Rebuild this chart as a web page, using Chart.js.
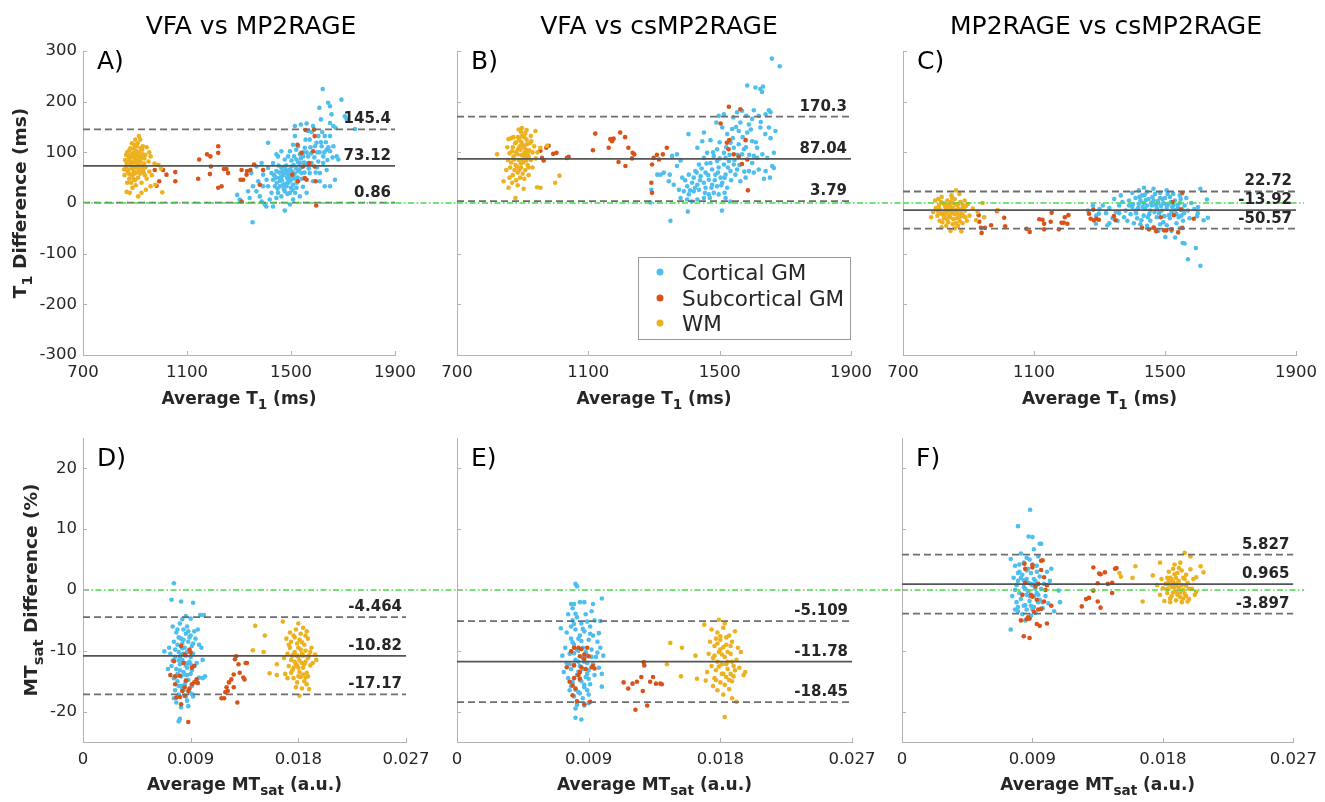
<!DOCTYPE html>
<html>
<head>
<meta charset="utf-8">
<script src="https://cdn.jsdelivr.net/npm/chart.js@4.4.1/dist/chart.umd.min.js"></script>
<style>
  html, body { margin: 0; padding: 0; background: #fff; }
  #wrap { position: relative; width: 1325px; height: 802px; }
  #wrap canvas { position: absolute; left: 0; top: 0; }
</style>
</head>
<body>
<div id="wrap"></div>
<script>
// ---------------------------------------- | Data

const groups = ["Cortical GM", "Subcortical GM", "WM"]
const titles = ["VFA vs MP2RAGE", "VFA vs csMP2RAGE", "MP2RAGE vs csMP2RAGE"]
const letters = ["A)", "B)", "C)", "D)", "E)", "F)"]

const t1XTicks = [700, 1100, 1500, 1900]
const t1YTicks = [-300, -200, -100, 0, 100, 200, 300]
const mtXTicks = [0, 0.009, 0.018, 0.027]
const mtYTicks = [-20, -10, 0, 10, 20]

// upper limit, mean bias, lower limit
const statsA = [145.4, 73.12, 0.86]
const statsB = [170.3, 87.04, 3.79]
const statsC = [22.72, -13.92, -50.57]
const statsD = [-4.464, -10.82, -17.17]
const statsE = [-5.109, -11.78, -18.45]
const statsF = [5.827, 0.965, -3.897]

// A) VFA vs MP2RAGE, T1
const cortA = [[1352,-38],[1293,16],[1303,7],[1335,23],[1347,59],[1367,72],[1387,79],[1412,119],[1399,-3],[1405,-7],[1476,-15],[1444,96],[1450,92],[1515,152],[1515,132],[1538,155],[1560,157],[1566,142],[1585,152],[1572,125],[1609,188],[1615,165],[1622,225],[1643,198],[1650,191],[1656,175],[1650,158],[1663,152],[1672,148],[1694,204],[1707,171],[1746,146],[1714,165],[1682,86],[1669,46],[1650,33],[1637,65],[1618,112],[1624,92],[1637,105],[1650,102],[1624,79],[1605,82],[1611,59],[1585,43],[1572,59],[1560,20],[1534,13],[1508,7],[1496,20],[1483,33],[1463,13],[1444,10],[1425,20],[1412,33],[1431,46],[1457,49],[1483,59],[1502,72],[1521,86],[1534,96],[1553,109],[1496,102],[1476,86],[1463,69],[1444,63],[1425,59],[1406,46],[1393,33],[1380,13],[1418,7],[1470,36],[1489,46],[1508,53],[1527,63],[1540,59],[1508,36],[1521,30],[1496,66],[1476,72],[1457,33],[1438,33],[1450,20],[1476,23],[1534,79],[1547,92],[1566,92],[1579,79],[1598,119],[1605,132],[1630,132],[1650,132],[1663,112],[1676,92],[1611,43],[1630,33],[1489,92],[1508,115],[1527,112],[1463,102],[1431,79],[1412,69],[1393,56],[1374,43],[1354,33],[1367,23],[1341,10],[1387,3],[1431,-7],[1496,-3],[1485,50],[1495,55],[1505,62],[1515,48],[1490,40],[1500,30],[1470,55],[1480,65],[1510,75],[1520,68],[1465,45],[1455,60],[1445,40],[1435,55],[1525,50],[1540,70],[1550,80],[1560,100],[1575,110],[1590,90],[1600,100],[1615,120],[1628,100],[1640,85],[1595,60],
  [1448,28],[1458,44],[1468,62],[1478,38],[1488,56],[1498,44],[1506,26],[1514,58],[1522,40],[1532,66],[1542,48],[1552,60],[1462,52],[1472,28],[1482,74],[1492,64],[1502,84],[1512,92],[1528,80],[1538,88],[1548,100],[1558,78],[1568,68],[1578,98],[1452,74],[1442,50],[1486,18],[1516,20],[1546,32],[1500,48],[1520,105],[1556,125],[1580,140],[1592,112],[1620,140],[1610,100],[1634,120],[1644,110],[1660,90],[1600,70]]
const subA = [[976,65],[1008,65],[1021,56],[993,43],[983,34],[1055,61],[1055,43],[1147,86],[1143,48],[1177,96],[1190,92],[1220,112],[1220,99],[1192,72],[1188,57],[1233,33],[1220,30],[1242,67],[1252,67],[1258,59],[1310,65],[1306,46],[1316,46],[1331,63],[1329,56],[1344,65],[1358,76],[1380,36],[1393,65],[1310,3],[1525,115],[1540,99],[1547,72],[1527,43],[1553,49],[1560,46],[1585,102],[1591,132],[1589,145],[1591,72],[1595,43],[1597,-5],[1556,144],[1570,79],[1505,56]]
const wmA = [[872,62],[880,75],[888,68],[895,80],[902,70],[910,85],[918,75],[925,90],[905,60],[890,55],[878,48],[870,40],[885,40],[900,45],[912,50],[920,58],[930,65],[935,78],[940,95],[928,105],[915,100],[905,95],[895,100],[885,90],[875,85],[865,70],[860,55],[862,85],[870,100],[882,108],[897,115],[910,118],[920,125],[915,132],[930,112],[945,110],[955,100],[952,82],[960,92],[975,78],[990,75],[1000,68],[965,55],[955,62],[945,48],[960,33],[978,36],[1005,21],[942,26],[912,13],[880,20],[868,22],[858,66],[890,30],[903,35],[925,40],[938,55],[895,62],[908,78],[918,88],[886,96],[876,58],[925,20],
  [868,78],[876,92],[884,82],[892,72],[899,88],[906,102],[913,68],[921,82],[929,96],[936,88],[874,66],[882,56],[891,92],[898,58],[907,112],[914,92],[922,108],[927,72],[933,60],[940,70],[866,95],[878,104],[888,118],[901,125],[894,48],[903,83],[910,74],[917,64],[884,76],[896,108]]

// B) VFA vs csMP2RAGE, T1
const cortB = [[1350,-35],[1403,-17],[1507,-15],[1289,1],[1292,26],[1310,56],[1320,56],[1330,60],[1345,43],[1348,56],[1355,93],[1370,96],[1381,84],[1370,73],[1405,136],[1452,139],[1490,159],[1497,172],[1513,175],[1541,169],[1553,179],[1568,182],[1581,172],[1604,183],[1619,172],[1650,183],[1655,179],[1624,149],[1639,136],[1670,142],[1655,128],[1665,99],[1660,73],[1653,50],[1635,48],[1604,60],[1589,63],[1599,79],[1614,89],[1630,96],[1614,109],[1599,122],[1584,139],[1558,142],[1538,146],[1523,136],[1508,149],[1584,232],[1609,228],[1624,225],[1632,230],[1629,219],[1659,285],[1683,270],[1650,149],[1472,124],[1447,122],[1432,109],[1462,99],[1492,106],[1513,99],[1492,83],[1472,79],[1452,89],[1437,76],[1426,63],[1442,53],[1457,60],[1477,66],[1497,70],[1513,76],[1528,83],[1543,76],[1553,66],[1533,63],[1518,56],[1503,50],[1487,56],[1467,46],[1452,40],[1432,36],[1416,40],[1401,33],[1391,23],[1406,17],[1421,23],[1437,26],[1457,30],[1477,36],[1492,33],[1508,40],[1523,30],[1533,3],[1518,10],[1497,17],[1482,20],[1467,17],[1452,10],[1432,7],[1416,3],[1401,7],[1381,10],[1376,26],[1360,36],[1386,50],[1406,56],[1421,50],[1543,109],[1558,116],[1574,106],[1568,96],[1533,119],[1518,89],[1482,93],[1548,56],[1563,43],[1579,50],[1604,93],[1619,66],[1640,63],[1645,89],[1665,69],[1599,166],[1563,159],[1589,155],
  [1425,30],[1440,45],[1455,20],[1465,55],[1475,30],[1485,45],[1495,60],[1505,35],[1515,50],[1525,70],[1535,45],[1545,85],[1555,95],[1445,68],[1460,78],[1480,100],[1500,88],[1520,110],[1540,128],[1550,150],[1570,130],[1580,110],[1590,95],[1610,120],[1625,160],[1640,175],[1595,145],[1515,20],[1470,10],[1430,60],[1410,25],[1395,45],[1500,120],[1530,95],[1560,75],[1575,62]]
const subB = [[954,103],[972,109],[979,113],[959,89],[964,84],[993,97],[1003,99],[1035,89],[1040,91],[1114,104],[1121,137],[1162,109],[1167,126],[1172,122],[1177,127],[1197,139],[1212,130],[1222,109],[1235,99],[1240,96],[1233,88],[1192,81],[1213,73],[1294,76],[1299,89],[1309,95],[1315,86],[1327,96],[1339,109],[1292,40],[1294,20],[1528,190],[1563,185],[1503,157],[1529,124],[1527,106],[1543,96],[1558,91],[1568,77],[1579,124],[1584,86],[1586,25],[1522,119]]
const wmB = [[865,80],[872,92],[880,100],[888,85],[895,95],[902,80],[910,105],[918,92],[900,115],[890,125],[905,130],[895,140],[880,120],[870,110],[860,98],[855,85],[862,70],[875,65],[885,60],[895,70],[908,65],[915,75],[925,85],[930,100],[935,112],[922,118],[912,125],[925,132],[888,145],[898,148],[870,55],[880,45],[892,50],[905,48],[860,50],[850,65],[868,40],[885,35],[900,58],[918,55],[822,96],[857,126],[939,142],[954,109],[974,113],[954,30],[944,31],[999,40],[1012,54],[878,10],[857,30],[903,28],[842,43],[930,70],[940,88],[945,100],[878,75],[893,105],[908,92],[853,110],[866,128],
  [874,86],[883,96],[891,112],[899,86],[906,100],[913,116],[920,104],[877,118],[886,130],[894,78],[902,94],[911,84],[918,70],[868,102],[882,72],[896,120],[908,138],[890,66],[904,110],[915,98],[926,122],[872,130],[898,132],[886,106],[912,144]]

// C) MP2RAGE vs csMP2RAGE, T1
const cortC = [[1290,-25],[1300,-12],[1310,-5],[1320,-20],[1330,-10],[1340,-30],[1350,-18],[1360,-5],[1370,2],[1380,-15],[1390,5],[1400,-8],[1410,10],[1420,-2],[1430,15],[1440,-12],[1450,8],[1460,-5],[1470,18],[1480,0],[1490,-15],[1500,10],[1510,-3],[1520,-18],[1530,5],[1540,-10],[1550,-25],[1560,-5],[1570,-15],[1580,0],[1375,-28],[1395,-22],[1415,-30],[1435,-25],[1455,-35],[1475,-28],[1495,-38],[1515,-30],[1535,-40],[1555,-35],[1400,20],[1420,25],[1445,22],[1465,28],[1485,20],[1505,25],[1525,18],[1545,15],[1345,8],[1365,15],[1385,-35],[1405,-40],[1425,-42],[1445,-45],[1465,-48],[1485,-42],[1505,-44],[1435,0],[1455,-15],[1475,-10],[1495,0],[1515,12],[1535,-22],[1565,10],[1575,-30],[1590,-12],[1600,-20],[1425,5],[1445,-5],[1465,5],[1485,10],[1505,-10],[1525,-5],[1545,0],[1410,-15],[1390,-5],[1360,-20],[1355,-35],[1330,-40],[1501,-67],[1531,-68],[1554,-79],[1560,-80],[1594,-89],[1570,-111],[1608,-124],[1608,28],[1628,7],[1631,-29],[1618,-34],[1598,-26],[1601,-8],[1436,30],[1289,-41],[1324,-44],[1298,-21],[1280,-5],[1265,-15],[1520,-55],[1545,-50],[1480,-55],
  [1402,-2],[1412,-20],[1422,12],[1432,-8],[1442,6],[1452,-22],[1462,12],[1472,-4],[1482,-20],[1492,8],[1502,-2],[1512,-24],[1522,-8],[1532,-14],[1542,-28],[1552,-12],[1418,-10],[1438,16],[1458,0],[1478,4],[1498,-26],[1518,2],[1538,-4],[1558,-20],[1448,-28],[1468,-18],[1488,-6],[1508,18],[1428,-34],[1548,8]]
const subC = [[931,-24],[933,-37],[938,-49],[940,-59],[950,-49],[969,-44],[987,-16],[1009,-29],[1012,-46],[1077,-51],[1087,-57],[1116,-32],[1126,-33],[1131,-41],[1131,-52],[1151,-37],[1154,-19],[1176,-52],[1184,-39],[1191,-39],[1194,-28],[1202,-41],[1205,-24],[1268,-21],[1273,-31],[1283,-34],[1290,-31],[1298,-33],[1344,-26],[1349,-34],[1281,-13],[1430,-49],[1451,-52],[1466,-49],[1473,-56],[1497,-54],[1504,-54],[1520,-52],[1540,-58],[1553,-49],[1487,-28],[1527,-24],[1548,-13],[1524,2],[1553,20],[1588,-31]]
const wmC = [[800,-10],[810,-5],[815,-20],[822,0],[830,-12],[835,5],[840,-25],[845,-8],[850,10],[855,-18],[860,-3],[865,-30],[870,-12],[875,2],[880,-22],[885,-8],[890,-15],[895,-35],[872,18],[862,25],[848,15],[838,-38],[825,-30],[812,-35],[805,-25],[792,-18],[786,-28],[798,5],[818,12],[832,-45],[852,-42],[868,-45],[882,-40],[898,-2],[903,-25],[858,-50],[845,-55],[878,-56],[842,-15],[857,-22],[866,-5],[827,-18],[852,0],[836,-3],[872,-28],[913,-11],[928,-18],[943,0],[948,-28],[923,-34],[989,-14],[888,5],[818,-48],[808,8],
  [812,-12],[820,-22],[828,-6],[836,-16],[844,-28],[852,-10],[860,-20],[868,-2],[876,-14],[884,-26],[816,2],[826,-26],[834,-32],[846,2],[854,-32],[864,-14],[874,-36],[882,-4],[890,-28],[820,-38],[840,-4],[858,8],[868,-22],[848,-20],[830,-20],[806,-16],[880,-12],[892,-6],[862,-40],[838,-10]]

// D) VFA vs MP2RAGE, MTsat
const cortD = [[0.0076,1.1],[0.0074,-1.6],[0.0082,-1.9],[0.0092,-2.1],[0.0098,-4.1],[0.0101,-4.1],[0.0086,-4.3],[0.0068,-10.1],[0.0099,-9.5],[0.0097,-14.4],[0.0102,-14.2],[0.0081,-21.2],[0.0080,-21.6],[0.0088,-19.1],[0.0091,-17.1],[0.0075,-6],[0.0078,-7],[0.0081,-5.5],[0.0084,-6.5],[0.0087,-6],[0.0090,-7.5],[0.0093,-6.8],[0.0076,-8.5],[0.0079,-9],[0.0082,-8],[0.0085,-9.5],[0.0088,-8.5],[0.0091,-9.2],[0.0094,-8],[0.0073,-10.5],[0.0077,-11],[0.0080,-10.2],[0.0083,-11.5],[0.0086,-10.8],[0.0089,-11.8],[0.0092,-10.5],[0.0095,-12],[0.0074,-12.5],[0.0078,-13],[0.0081,-12.2],[0.0084,-13.5],[0.0087,-12.8],[0.0090,-13.8],[0.0093,-12.5],[0.0076,-14.5],[0.0079,-15],[0.0082,-14.2],[0.0085,-15.5],[0.0088,-14.8],[0.0091,-15.8],[0.0077,-16.5],[0.0080,-17.2],[0.0083,-16.2],[0.0086,-17.5],[0.0089,-16.8],[0.0078,-18.5],[0.0082,-19.3],[0.0087,-18.2],[0.0080,-7.8],[0.0083,-8.8],[0.0086,-7.2],[0.0089,-10],[0.0081,-11],[0.0084,-10.5],[0.0087,-14],[0.0090,-11],[0.0079,-13.8],[0.0096,-6.5],[0.0097,-9],[0.0100,-11.5],[0.0100,-14.5],[0.0072,-9.5],[0.0071,-13],[0.0083,-4.8],[0.0090,-4.7],[0.0088,-12],[0.0085,-12],[0.0082,-15.8],[0.0092,-17.5],[0.0076,-17.8],
  [0.0077,-9.8],[0.0080,-11.6],[0.0083,-9.6],[0.0086,-12.4],[0.0089,-7.8],[0.0078,-14.2],[0.0081,-13.2],[0.0084,-8.2],[0.0087,-10.2],[0.0090,-12.2],[0.0079,-6.5],[0.0082,-10.6],[0.0085,-13.9],[0.0088,-6.8],[0.0091,-13.2],[0.0080,-15.8],[0.0084,-16.5],[0.0092,-8.8],[0.0075,-11.6],[0.0086,-15]]
const subD = [[0.0082,-9.2],[0.0085,-10.6],[0.0089,-9.8],[0.0076,-11.7],[0.0073,-14.0],[0.0077,-14.2],[0.0081,-14.1],[0.0084,-12.0],[0.0091,-12.8],[0.0093,-15.2],[0.0086,-14.9],[0.0085,-16.0],[0.0083,-16.6],[0.0088,-16.6],[0.0089,-16.2],[0.0091,-15.5],[0.0096,-15.3],[0.0095,-14.7],[0.0078,-17.7],[0.0081,-17.6],[0.0082,-18.8],[0.0085,-17.4],[0.0088,-21.7],[0.0093,-12.5],[0.0090,-10.3],[0.0077,-15.5],[0.01157,-17.8],[0.0118,-17.8],[0.0120,-16.0],[0.0119,-16.8],[0.0122,-15.2],[0.0121,-16.6],[0.0124,-14.7],[0.0126,-13.9],[0.0126,-16.0],[0.0129,-18.5],[0.0127,-11.4],[0.0128,-10.9],[0.0130,-12.2],[0.0131,-13.6],[0.0134,-14.4],[0.0135,-14.7],[0.0136,-12.0],[0.0137,-12.0]]
const wmD = [[0.0144,-5.9],[0.0152,-7.5],[0.0142,-9.9],[0.0151,-10.2],[0.0156,-13.7],[0.0162,-14.0],[0.0167,-5.2],[0.0162,-12.2],[0.0189,-16.3],[0.0181,-17.4],[0.0194,-10.6],[0.0180,-5.5],[0.0187,-6.8],[0.0170,-8],[0.0173,-9.5],[0.0176,-7.5],[0.0179,-8.8],[0.0182,-7.2],[0.0185,-9],[0.0188,-8],[0.0171,-10.5],[0.0174,-11.5],[0.0177,-10.2],[0.0180,-11],[0.0183,-10.5],[0.0186,-11.8],[0.0189,-10.8],[0.0172,-12.5],[0.0175,-13.2],[0.0178,-12.2],[0.0181,-13.5],[0.0184,-12.8],[0.0187,-13.6],[0.0190,-12.4],[0.0176,-14.5],[0.0179,-15.2],[0.0182,-14.3],[0.0185,-15],[0.0188,-14.2],[0.0178,-6.5],[0.0184,-6.2],[0.0174,-8.5],[0.0180,-9.5],[0.0186,-10],[0.0177,-11.8],[0.0183,-12],[0.0180,-12.8],[0.0175,-10.8],[0.0181,-8.2],[0.0168,-11.2],[0.0169,-13.8],[0.0191,-9.5],[0.0192,-12],[0.0178,-16],[0.0183,-16.2],[0.0186,-7.5],[0.0173,-7],[0.0195,-11.5],[0.0171,-14.5],[0.0187,-15.5],[0.0179,-10.8],[0.0184,-13.9],
  [0.0172,-9],[0.0176,-10.6],[0.0179,-12.4],[0.0182,-9.8],[0.0185,-12.2],[0.0188,-11.2],[0.0174,-13.6],[0.0177,-7.8],[0.0183,-8.6],[0.0186,-14.4],[0.0180,-14.2],[0.0176,-12.8],[0.0190,-10.2],[0.0181,-11.6],[0.0184,-10.8]]

// E) VFA vs csMP2RAGE, MTsat
const cortE = [[0.0081,1.0],[0.0082,0.6],[0.0078,-2.3],[0.0080,-2.3],[0.0084,-2.0],[0.0087,-2.0],[0.0093,-2.3],[0.0099,-1.4],[0.0098,-5.1],[0.0071,-6.3],[0.0081,-3.9],[0.0097,-7.1],[0.0096,-10.3],[0.0100,-10.8],[0.0099,-13.8],[0.0099,-15.9],[0.0081,-21.0],[0.0085,-21.3],[0.0082,-18.9],[0.0090,-18.6],[0.0076,-4],[0.0079,-5],[0.0082,-4.5],[0.0085,-5.5],[0.0088,-4],[0.0091,-6],[0.0094,-5],[0.0075,-7],[0.0078,-8],[0.0081,-6.5],[0.0084,-7.5],[0.0087,-6.8],[0.0090,-8.2],[0.0093,-7.5],[0.0096,-8.5],[0.0074,-9.5],[0.0077,-10.5],[0.0080,-9],[0.0083,-10],[0.0086,-9.5],[0.0089,-10.8],[0.0092,-9.8],[0.0095,-11],[0.0075,-12],[0.0078,-13],[0.0081,-11.5],[0.0084,-12.5],[0.0087,-11.8],[0.0090,-13.2],[0.0093,-12.2],[0.0076,-14.5],[0.0079,-15.2],[0.0082,-14],[0.0085,-15],[0.0088,-14.3],[0.0091,-15.5],[0.0094,-14],[0.0077,-16.5],[0.0080,-17.5],[0.0083,-16.8],[0.0086,-17.8],[0.0089,-16.5],[0.0081,-19.5],[0.0087,-19],[0.0073,-13.5],[0.0072,-10.8],[0.0097,-12.8],[0.0098,-9.5],[0.0080,-12.3],[0.0086,-13],[0.0083,-8],[0.0089,-12],[0.0079,-3],[0.0092,-3.5],[0.0084,-17],[0.0090,-17.2],[0.0078,-6],[0.0087,-16],
  [0.0077,-12.2],[0.0080,-10.4],[0.0083,-13.4],[0.0086,-11.2],[0.0089,-13.8],[0.0092,-11],[0.0079,-8.6],[0.0082,-9.8],[0.0085,-8.4],[0.0088,-10.2],[0.0091,-7.2],[0.0078,-15.8],[0.0081,-16.4],[0.0084,-14.8],[0.0087,-15.6],[0.0090,-14.6],[0.0083,-11.8],[0.0086,-6.4],[0.0080,-5.6],[0.0089,-5.2]]
const subE = [[0.0080,-9.5],[0.0083,-9.5],[0.0085,-9.7],[0.0089,-9.5],[0.0078,-10.1],[0.0087,-10.6],[0.0084,-10.9],[0.0090,-10.9],[0.0087,-11.3],[0.0075,-12.7],[0.0080,-12.4],[0.0085,-12.7],[0.0084,-13.5],[0.0092,-12.7],[0.0093,-12.5],[0.0094,-12.9],[0.0083,-14.0],[0.0080,-14.5],[0.0077,-15.1],[0.0079,-15.7],[0.0081,-16.2],[0.0079,-17.3],[0.0082,-18.3],[0.0087,-18.8],[0.0091,-18.4],[0.0084,-14.6],[0.0088,-13.0],[0.01276,-11.9],[0.0128,-12.4],[0.01139,-15.2],[0.0117,-16.2],[0.0120,-15.4],[0.0123,-15.1],[0.0126,-14.3],[0.0127,-16.6],[0.0130,-19.0],[0.0122,-19.7],[0.0132,-15.1],[0.0134,-14.3],[0.0136,-15.4],[0.0139,-15.4],[0.0140,-15.5]]
const wmE = [[0.01458,-8.7],[0.01538,-9.5],[0.01435,-12.2],[0.01531,-14.2],[0.0163,-10.8],[0.0164,-14.6],[0.0170,-14.9],[0.0179,-4.9],[0.0169,-5.7],[0.0183,-20.9],[0.0191,-18.4],[0.0197,-13.5],[0.0196,-14.0],[0.0174,-6.5],[0.0178,-7],[0.0182,-6.2],[0.0186,-7.5],[0.0190,-6.8],[0.0173,-8.5],[0.0176,-9.2],[0.0180,-8.2],[0.0184,-9],[0.0188,-8.5],[0.0192,-9.5],[0.0172,-10.5],[0.0175,-11.2],[0.0179,-10.2],[0.0183,-11],[0.0187,-10.5],[0.0191,-11.5],[0.0174,-12.5],[0.0177,-13.2],[0.0181,-12.2],[0.0185,-13],[0.0189,-12.5],[0.0193,-12.8],[0.0176,-14.5],[0.0180,-15.2],[0.0184,-14.3],[0.0188,-15],[0.0178,-16.5],[0.0182,-17.2],[0.0186,-16.3],[0.0180,-9.8],[0.0185,-11.8],[0.0178,-11.8],[0.0182,-13.8],[0.0187,-13.8],[0.0171,-13.5],[0.0194,-10.2],[0.0177,-8],[0.0189,-14.2],[0.0183,-5.5],[0.0188,-17.8],[0.0181,-10.6],[0.0175,-15.8],
  [0.0176,-10.8],[0.0179,-12.6],[0.0182,-9.4],[0.0185,-10.2],[0.0188,-11.8],[0.0178,-8.8],[0.0181,-13.8],[0.0184,-12.2],[0.0187,-9.2],[0.0190,-13.2],[0.0177,-14.8],[0.0183,-15.6],[0.0186,-14.8],[0.0180,-7.6],[0.0184,-7.8]]

// F) MP2RAGE vs csMP2RAGE, MTsat
const cortF = [[0.00884,13.2],[0.0080,10.5],[0.00873,8.8],[0.0090,8.7],[0.0095,7.6],[0.0096,7.6],[0.0091,6.7],[0.0075,-6.5],[0.0109,-2.0],[0.0105,-3.5],[0.0108,-0.1],[0.0103,3.5],[0.0075,5.1],[0.0086,5.3],[0.0078,4],[0.0081,3],[0.0084,4.5],[0.0087,3.5],[0.0090,4.2],[0.0093,3],[0.0077,2],[0.0080,1.5],[0.0083,2.5],[0.0086,1.8],[0.0089,2.8],[0.0092,1.5],[0.0095,2.2],[0.0098,1],[0.0078,0],[0.0081,-0.5],[0.0084,0.5],[0.0087,-0.2],[0.0090,0.8],[0.0093,-0.5],[0.0096,0.2],[0.0099,-1],[0.0079,-2],[0.0082,-1.5],[0.0085,-2.5],[0.0088,-1.8],[0.0091,-2.8],[0.0094,-2],[0.0097,-3],[0.0080,-3.5],[0.0083,-4],[0.0086,-3.2],[0.0089,-4.2],[0.0092,-3.8],[0.0085,-5],[0.0088,5],[0.0102,1.5],[0.0101,-2.2],[0.0076,-1],[0.0082,6],[0.0094,5.5],[0.0100,3],[0.0086,-0.8],[0.0089,1],[0.0080,2.8],[0.0091,-1],[0.0084,-2.6],
  [0.0079,0.8],[0.0082,2],[0.0085,0.2],[0.0088,-1],[0.0091,1.8],[0.0094,-0.8],[0.0080,-2.8],[0.0083,-0.8],[0.0086,3.2],[0.0089,-2.6],[0.0092,0.2],[0.0095,-1.6],[0.0081,4.2],[0.0087,1.2],[0.0090,-3.2],[0.0084,1.6],[0.0093,4],[0.0078,-3.2],[0.0097,-2]]
const subF = [[0.00845,4.3],[0.0090,3.7],[0.0090,4.1],[0.0096,3.3],[0.0085,3.5],[0.0096,4.8],[0.0097,4.9],[0.0098,2.1],[0.0085,1.2],[0.0094,1.0],[0.0092,0.6],[0.0100,0.8],[0.0099,0],[0.0083,-0.8],[0.0089,-0.8],[0.0090,-1.1],[0.0093,-1.6],[0.0098,-1.9],[0.0103,-2.6],[0.0094,-3.2],[0.0096,-3.1],[0.0091,-3.6],[0.0087,-4.5],[0.0088,-4.7],[0.0082,-5.0],[0.0086,-4.8],[0.0093,-5.6],[0.0095,-5.9],[0.0100,-5.5],[0.0084,-7.6],[0.0088,-7.9],[0.0124,-2.7],[0.0127,-1.5],[0.0129,-1.3],[0.0132,-0.1],[0.0135,-1.9],[0.0137,-2.9],[0.0132,3.7],[0.0136,2.7],[0.0137,2.6],[0.0140,2.9],[0.0135,1.1],[0.0142,1.0],[0.0145,1.2],[0.0145,-0.5],[0.0147,3.5],[0.0148,3.6]]
const wmF = [[0.0161,3.9],[0.0159,2.0],[0.0166,-1.9],[0.0150,2.8],[0.0151,2.2],[0.0173,2.4],[0.0178,4.5],[0.0195,6.1],[0.0199,5.5],[0.0206,3.9],[0.0208,2.9],[0.0203,2.1],[0.0203,-0.3],[0.0182,1],[0.0185,2],[0.0188,0.5],[0.0191,1.5],[0.0194,0],[0.0197,1.2],[0.0200,0.2],[0.0183,-0.5],[0.0186,-1],[0.0189,-0.2],[0.0192,-1.2],[0.0195,-0.6],[0.0198,-1.5],[0.0184,3],[0.0187,3.5],[0.0190,2.8],[0.0193,3.2],[0.0196,2.5],[0.0199,3.4],[0.0181,-1.8],[0.0185,-2],[0.0189,-1.7],[0.0193,-2],[0.0197,-1.9],[0.0188,4.2],[0.0192,4.5],[0.0180,0.3],[0.0201,1.8],[0.0176,0.8],[0.0178,-0.8],[0.0187,1.3],[0.0190,-0.8],[0.0194,2],[0.0191,0.4],[0.0186,0.5],[0.0183,2],[0.0196,0.7],[0.0202,-0.8],[0.0179,1.8],[0.0189,2],[0.0184,0.9],
  [0.0183,0.2],[0.0186,1.8],[0.0189,0.8],[0.0192,-0.4],[0.0195,1.8],[0.0198,0.2],[0.0185,-1.4],[0.0188,2.6],[0.0191,3.6],[0.0194,-1.4],[0.0187,-0.4],[0.0190,1.2],[0.0184,1.4],[0.0196,-1],[0.0193,0.8]]

// ---------------------------------------- | Styles

const FONT = "'DejaVu Sans', sans-serif"
const TEXT = "#262626"
const AXIS = "#b3b3b3"
const GREEN = "#46dc46"
const colors = ["#4DBEEE", "#D95319", "#EDB120"]
const Y_BOX = 45   // room kept for y tick labels
const X_BOX = 30   // room kept for x tick labels

// plot boxes in page pixels: left, right, top, bottom
const layout = [
  { area: [83, 395, 51, 355], green: [83, 457], titleX: 251 },
  { area: [457, 851, 51, 355], green: [457, 903], titleX: 659 },
  { area: [903, 1298, 51, 355], green: [903, 1304], titleX: 1106 },
  { area: [83, 406, 438, 742], green: [83, 457] },
  { area: [457, 852, 438, 742], green: [457, 902] },
  { area: [902, 1297, 438, 742], green: [902, 1304] }
]

const panels = [
  { cort: cortA, sub: subA, wm: wmA, stats: statsA },
  { cort: cortB, sub: subB, wm: wmB, stats: statsB },
  { cort: cortC, sub: subC, wm: wmC, stats: statsC },
  { cort: cortD, sub: subD, wm: wmD, stats: statsD },
  { cort: cortE, sub: subE, wm: wmE, stats: statsE },
  { cort: cortF, sub: subF, wm: wmF, stats: statsF }
]

// ---------------------------------------- | Helpers

function font(size, bold) {
  return (bold ? "bold " : "") + size + "px " + FONT
}

// text with subscript pieces, centred on cx
function drawParts(ctx, parts, cx, baseY, size) {
  const widths = parts.map(([t, sub]) => {
    ctx.font = font(sub ? size * 0.8 : size, true)
    return ctx.measureText(t).width
  })
  let x = cx - widths.reduce((a, b) => a + b, 0) / 2
  ctx.textAlign = "left"
  ctx.textBaseline = "alphabetic"
  parts.forEach(([t, sub], k) => {
    ctx.font = font(sub ? size * 0.8 : size, true)
    ctx.fillText(t, x, baseY + (sub ? size * 0.3 : 0))
    x += widths[k]
  })
}

function scaleOpts(range, ticks, isX, showLabels) {
  return {
    type: "linear",
    min: range[0],
    max: range[1],
    afterBuildTicks: s => { s.ticks = ticks.map(v => ({ value: v })) },
    afterFit: s => { if (isX) s.height = X_BOX; else s.width = Y_BOX },
    grid: { drawOnChartArea: false, drawTicks: false },
    border: { color: AXIS, width: 1 },
    ticks: {
      display: showLabels,
      padding: isX ? 8 : 6,
      autoSkip: false,
      maxRotation: 0,
      color: TEXT,
      font: { family: FONT, size: 16.5 },
      callback: v => String(v)
    }
  }
}

function deco(i, stats) {
  const top = i < 3
  const L = layout[i]
  const xTicks = top ? t1XTicks : mtXTicks
  const yTicks = top ? t1YTicks : mtYTicks
  return {
    id: "deco" + i,
    afterDatasetsDraw(chart) {
      const { ctx, scales: { y } } = chart
      const y0 = y.getPixelForValue(0)
      ctx.save()
      ctx.strokeStyle = GREEN
      ctx.lineWidth = 1.5
      ctx.setLineDash([6, 2.5, 1.5, 2.5])
      ctx.beginPath()
      ctx.moveTo(L.green[0], y0)
      ctx.lineTo(L.green[1], y0)
      ctx.stroke()
      ctx.restore()
    },
    afterDraw(chart) {
      const { ctx, chartArea: ca, scales: { x, y } } = chart
      ctx.save()

      // inward tick marks
      ctx.strokeStyle = AXIS
      ctx.lineWidth = 1
      ctx.beginPath()
      xTicks.forEach(v => {
        const px = Math.round(x.getPixelForValue(v)) + 0.5
        ctx.moveTo(px, ca.bottom); ctx.lineTo(px, ca.bottom - 4)
      })
      yTicks.forEach(v => {
        const py = Math.round(y.getPixelForValue(v)) + 0.5
        ctx.moveTo(ca.left, py); ctx.lineTo(ca.left + 4, py)
      })
      ctx.stroke()

      ctx.fillStyle = TEXT

      // limits of agreement labels
      ctx.font = font(15, true)
      ctx.textAlign = "right"
      ctx.textBaseline = "alphabetic"
      stats.forEach(v => ctx.fillText(String(v), ca.right - 4, y.getPixelForValue(v) - 6))

      // panel letter
      ctx.font = font(25)
      ctx.textAlign = "left"
      ctx.fillStyle = "#000"
      ctx.fillText(letters[i], ca.left + 14, ca.top + (top ? 18 : 28))

      // column title
      if (top) {
        ctx.textAlign = "center"
        ctx.fillText(titles[i], L.titleX, 34)
      }

      ctx.fillStyle = TEXT
      // x axis label
      const xParts = top
        ? [["Average T", 0], ["1", 1], [" (ms)", 0]]
        : [["Average MT", 0], ["sat", 1], [" (a.u.)", 0]]
      drawParts(ctx, xParts, (ca.left + ca.right) / 2, top ? 404 : 790, 17)

      // y axis label
      if (i % 3 === 0) {
        const yParts = top
          ? [["T", 0], ["1", 1], [" Difference (ms)", 0]]
          : [["MT", 0], ["sat", 1], [" Difference (%)", 0]]
        ctx.save()
        ctx.translate(top ? 26 : 37, (ca.top + ca.bottom) / 2)
        ctx.rotate(-Math.PI / 2)
        drawParts(ctx, yParts, 0, 0, 18.5)
        ctx.restore()
      }

      // legend (panel B only)
      if (i === 1) {
        ctx.fillStyle = "#fff"
        ctx.fillRect(638.5, 257.5, 212, 82)
        ctx.strokeStyle = "#9a9a9a"
        ctx.strokeRect(638.5, 257.5, 212, 82)
        const rows = [272, 298, 323]
        ctx.font = font(21.5)
        ctx.textAlign = "left"
        groups.forEach((g, k) => {
          ctx.fillStyle = colors[k]
          ctx.beginPath()
          ctx.arc(660, rows[k], 3.5, 0, Math.PI * 2)
          ctx.fill()
          ctx.fillStyle = TEXT
          ctx.fillText(g, 682, rows[k] + 8)
        })
      }
      ctx.restore()
    }
  }
}

// ---------------------------------------- | Panels

panels.forEach((p, i) => {
  const top = i < 3
  const [l, r, t, b] = layout[i].area
  const xr = top ? [700, 1900] : [0, 0.027]
  const yr = top ? [-300, 300] : [-25, 25]

  const canvas = document.createElement("canvas")
  canvas.width = 1325
  canvas.height = 802
  document.getElementById("wrap").appendChild(canvas)

  const points = [p.cort, p.sub, p.wm].map((d, k) => ({
    label: groups[k],
    data: d,
    pointRadius: 2.3,
    pointHoverRadius: 2.3,
    pointBorderWidth: 0,
    pointBackgroundColor: colors[k],
    backgroundColor: colors[k],
    order: 4 - k
  }))

  const lines = p.stats.map((v, k) => ({
    label: "stat" + k,
    data: [[xr[0], v], [xr[1], v]],
    showLine: true,
    pointRadius: 0,
    borderColor: k === 1 ? "#555555" : "#6e6e6e",
    borderWidth: 1.8,
    borderDash: k === 1 ? [] : [7, 4],
    order: 1
  }))

  new Chart(canvas, {
    type: "scatter",
    data: { datasets: [...points, ...lines] },
    options: {
      responsive: false,
      animation: false,
      devicePixelRatio: 1,
      events: [],
      layout: { padding: { left: l - Y_BOX, right: 1325 - r, top: t, bottom: 802 - b - X_BOX } },
      plugins: { legend: { display: false }, tooltip: { enabled: false } },
      scales: {
        x: scaleOpts(xr, top ? t1XTicks : mtXTicks, true, true),
        y: scaleOpts(yr, top ? t1YTicks : mtYTicks, false, i % 3 === 0)
      }
    },
    plugins: [deco(i, p.stats)]
  })
})
</script>
</body>
</html>
